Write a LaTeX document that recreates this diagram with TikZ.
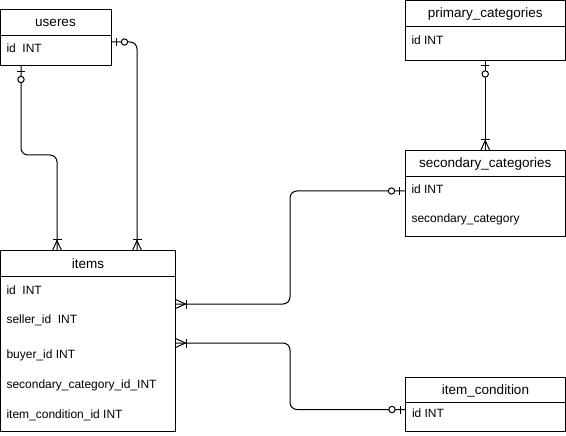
\documentclass[tikz,border=0pt]{standalone}
\usepackage{fontspec}
\setmainfont{Liberation Sans}
\begin{document}
\begin{tikzpicture}[x=1pt,y=1pt,line width=1pt,
  entity/.style={draw,rectangle,inner sep=0,outer sep=0,anchor=north west},
  ttl/.style={inner sep=0,font=\fontsize{13.5}{16}\selectfont},
  fld/.style={inner sep=0,anchor=west,font=\fontsize{12}{14}\selectfont},
  conn/.style={draw,rounded corners=7pt},
  pics/zeroone/.style={code={
    \draw (5.5,-4) -- (5.5,4);
    \draw[fill=white] (13.5,0) circle (3.2);
  }},
  pics/onemany/.style={code={
    \draw (0,4.5) -- (10,0) -- (0,-4.5);
    \draw (11,-4.5) -- (11,4.5);
  }}]
\useasboundingbox[fill=white] (0,0) rectangle (566,-436);
% entities
\node[entity,minimum width=111,minimum height=56] (useres) at (0,-10) {};
\draw ([yshift=-26]useres.north west) -- ([yshift=-26]useres.north east);
\node[ttl] (useres-t) at (55.5,-23) {useres};
\node[fld] (useres-f1) at (6,-48) {id~ INT};

\node[entity,minimum width=175.5,minimum height=181] (items) at (0,-250.5) {};
\draw ([yshift=-26]items.north west) -- ([yshift=-26]items.north east);
\node[ttl] (items-t) at (88,-263.5) {items};
\node[fld] (items-f1) at (6,-290) {id~ INT};
\node[fld] (items-f2) at (6,-320) {seller\_id~ INT};
\node[fld] (items-f3) at (6,-355.5) {buyer\_id INT};
\node[fld] (items-f4) at (6,-385.5) {secondary\_category\_id\_INT};
\node[fld] (items-f5) at (6,-415) {item\_condition\_id INT};

\node[entity,minimum width=160.5,minimum height=60] (primary) at (405,-0.5) {};
\draw ([yshift=-26]primary.north west) -- ([yshift=-26]primary.north east);
\node[ttl] (primary-t) at (485.25,-14) {primary\_categories};
\node[fld] (primary-f1) at (411,-40) {id INT};

\node[entity,minimum width=160.5,minimum height=85.5] (secondary) at (405,-150.5) {};
\draw ([yshift=-26]secondary.north west) -- ([yshift=-26]secondary.north east);
\node[ttl] (secondary-t) at (485.25,-164.5) {secondary\_categories};
\node[fld] (secondary-f1) at (411,-189) {id INT};
\node[fld] (secondary-f2) at (411,-219.5) {secondary\_category};

\node[entity,minimum width=160,minimum height=54.5] (cond) at (405.5,-377) {};
\draw ([yshift=-25.5]cond.north west) -- ([yshift=-25.5]cond.north east);
\node[ttl] (cond-t) at (485.5,-390.5) {item\_condition};
\node[fld] (cond-f1) at (411.5,-413) {id INT};

% connectors
\draw[conn] ([xshift=21]useres.south west) -- ++(0,-89) -| ([xshift=57]items.north west);
\pic[rotate=-90] at ([xshift=21]useres.south west) {zeroone};
\pic[rotate=90] at ([xshift=57]items.north west) {onemany};

\draw[conn] ([yshift=-32]useres.north east) -| ([xshift=137]items.north west);
\pic at ([yshift=-32]useres.north east) {zeroone};
\pic[rotate=90] at ([xshift=137]items.north west) {onemany};

\draw[conn] ([yshift=-53.5]items.north east) -- ++(114.5,0) |- ([yshift=-40.5]secondary.north west);
\pic at ([yshift=-53.5]items.north east) {onemany};
\pic[rotate=180] at ([yshift=-40.5]secondary.north west) {zeroone};

\draw[conn] ([yshift=-92.5]items.north east) -- ++(114.5,0) |- ([yshift=-32.5]cond.north west);
\pic at ([yshift=-92.5]items.north east) {onemany};
\pic[rotate=180] at ([yshift=-32.5]cond.north west) {zeroone};

\draw[conn] (primary.south) -- (secondary.north);
\pic[rotate=-90] at (primary.south) {zeroone};
\pic[rotate=90] at (secondary.north) {onemany};
\end{tikzpicture}
\end{document}
